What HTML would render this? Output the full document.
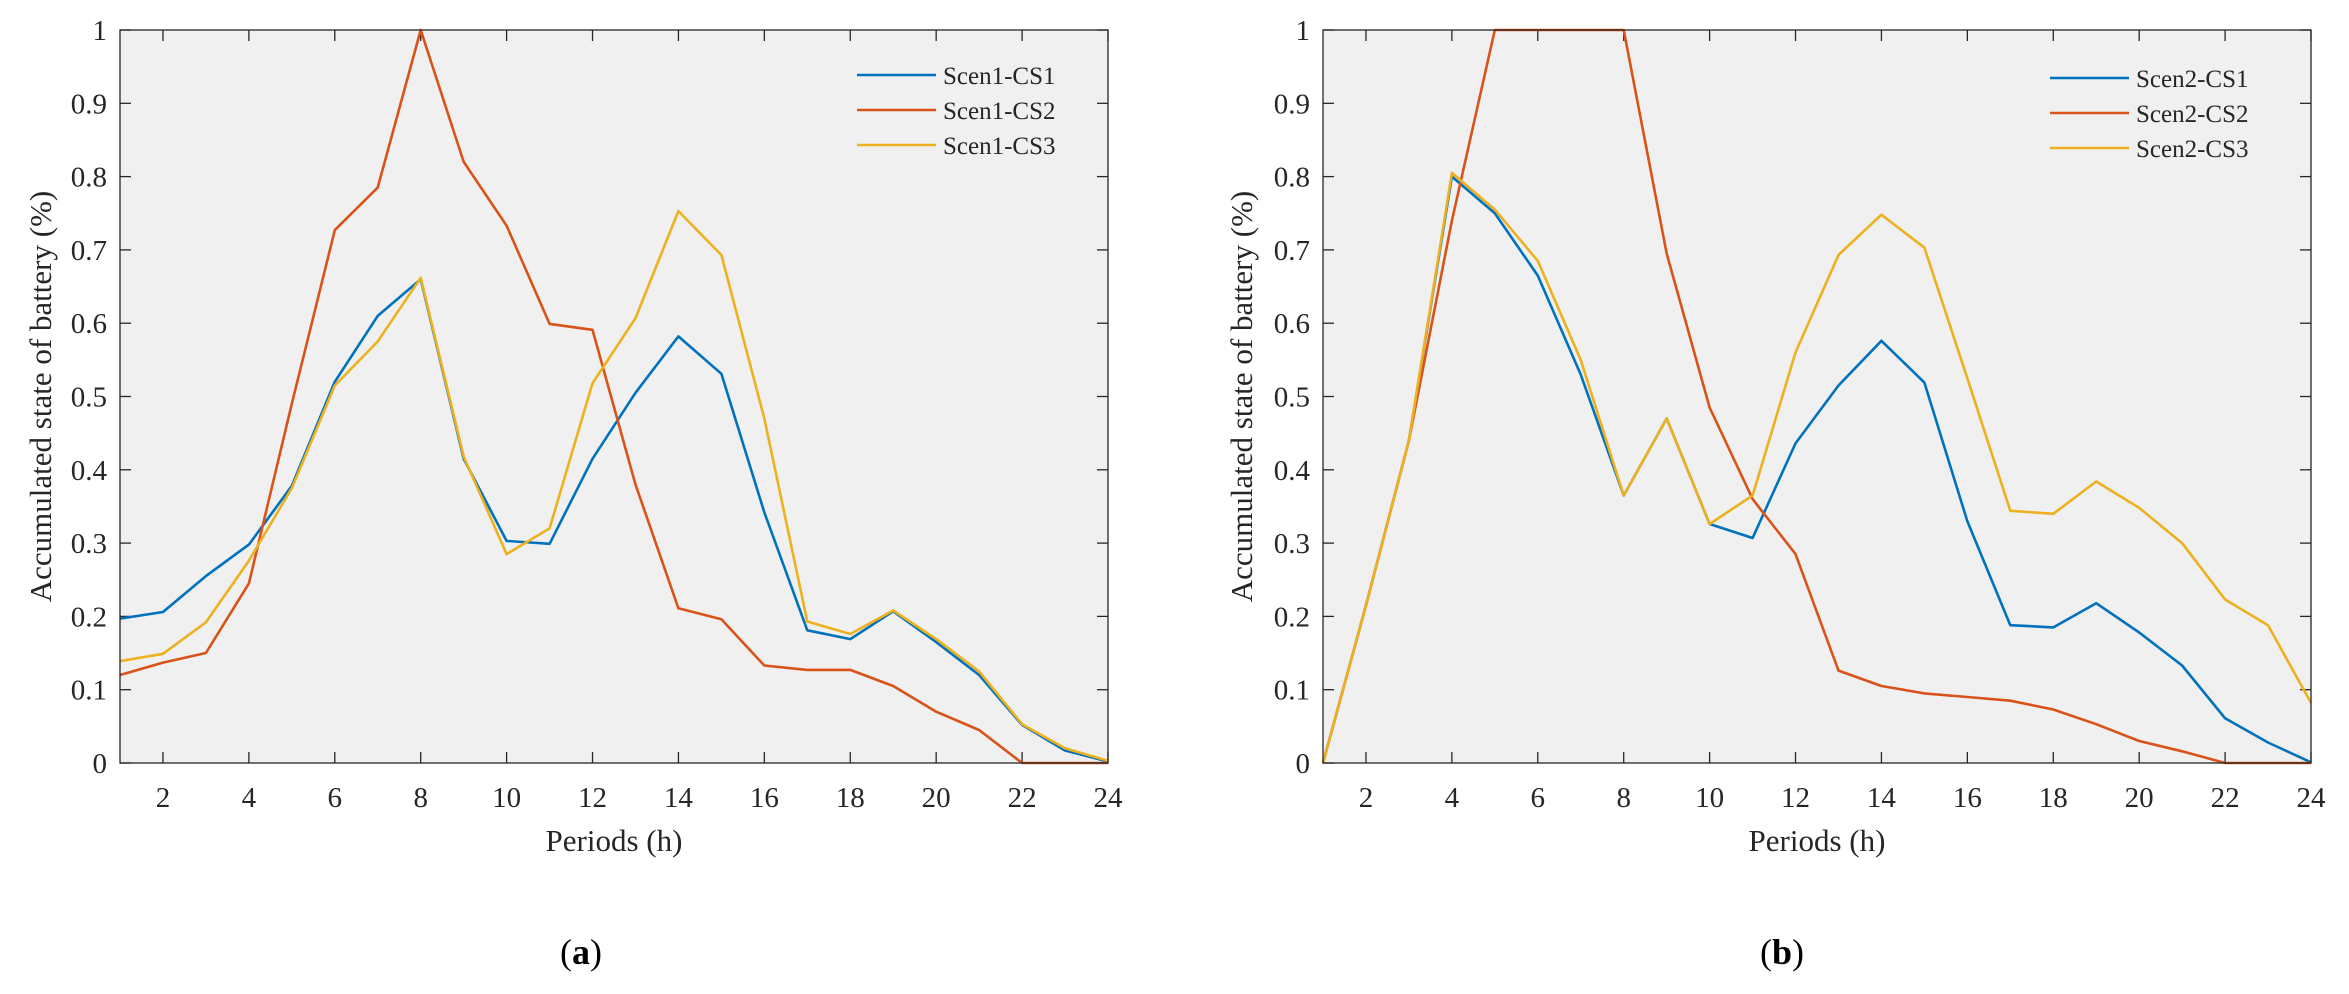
<!DOCTYPE html>
<html><head><meta charset="utf-8"><style>
html,body{margin:0;padding:0;background:#fff;}
svg{display:block;font-family:"Liberation Serif",serif;}
</style></head><body>
<svg id="fig" width="2349" height="994" xmlns="http://www.w3.org/2000/svg"></svg>
<script>
const hours = [1,2,3,4,5,6,7,8,9,10,11,12,13,14,15,16,17,18,19,20,21,22,23,24];
const xTicks = [2,4,6,8,10,12,14,16,18,20,22,24];
const yTicks = [0,0.1,0.2,0.3,0.4,0.5,0.6,0.7,0.8,0.9,1];
const yTickLabels = ['0','0.1','0.2','0.3','0.4','0.5','0.6','0.7','0.8','0.9','1'];
const seriesNamesA = ['Scen1-CS1','Scen1-CS2','Scen1-CS3'];
const seriesNamesB = ['Scen2-CS1','Scen2-CS2','Scen2-CS3'];
const a_cs1 = [0.197,0.206,0.255,0.298,0.378,0.52,0.61,0.66,0.415,0.303,0.299,0.415,0.505,0.582,0.531,0.342,0.181,0.169,0.207,0.165,0.12,0.052,0.017,0.002];
const a_cs2 = [0.12,0.137,0.15,0.245,0.49,0.727,0.785,1.0,0.82,0.733,0.599,0.591,0.38,0.211,0.196,0.133,0.127,0.127,0.105,0.07,0.045,0,0,0];
const a_cs3 = [0.139,0.149,0.192,0.276,0.375,0.515,0.575,0.662,0.418,0.285,0.32,0.518,0.607,0.753,0.693,0.47,0.193,0.176,0.208,0.169,0.125,0.053,0.02,0.003];
const b_cs1 = [0,0.215,0.44,0.8,0.75,0.665,0.53,0.365,0.47,0.326,0.307,0.436,0.515,0.576,0.519,0.33,0.188,0.185,0.218,0.178,0.133,0.061,0.028,0.001];
const b_cs2 = [0,0.215,0.44,0.74,1,1,1,1,0.695,0.485,0.36,0.285,0.126,0.105,0.095,0.09,0.085,0.073,0.053,0.03,0.016,0,0,0];
const b_cs3 = [0,0.215,0.44,0.805,0.755,0.685,0.55,0.365,0.47,0.326,0.365,0.56,0.693,0.748,0.703,0.525,0.344,0.34,0.384,0.348,0.3,0.223,0.188,0.082];

const colors = ['#0072BD','#D95319','#EDB120'];
const NS = 'http://www.w3.org/2000/svg';
const svg = document.getElementById('fig');
function mk(tag, attrs, parent, text){
  const e = document.createElementNS(NS, tag);
  for (const k in attrs) e.setAttribute(k, attrs[k]);
  if (text !== undefined) e.textContent = text;
  parent.appendChild(e);
  return e;
}
function panel(id, L, R, T, B, series, names, legX, legY, ytitleX, capX, capLabel){
  const g = mk('g', {}, svg);
  
  
  const xs = h => L + (h - 1) / 23 * (R - L);
  const ys = v => B - v * (B - T);
  const bg = mk('rect', {x:L, y:T, width:R-L, height:B-T, fill:'#f0f0f0'}, g);
  
  
  // ticks
  const tg = mk('g', {stroke:'#262626','stroke-width':1.3}, g);
  
  
  xTicks.forEach(t => {
    const x = xs(t);
    mk('line', {x1:x, y1:B, x2:x, y2:B-11}, tg);
    mk('line', {x1:x, y1:T, x2:x, y2:T+11}, tg);
    const lb = mk('text', {x:x, y:B+44, 'text-anchor':'middle', 'font-size':29, fill:'#262626'}, g, String(t));
    
    
  });
  yTicks.forEach((t, i) => {
    const y = ys(t);
    mk('line', {x1:L, y1:y, x2:L+11, y2:y}, tg);
    mk('line', {x1:R, y1:y, x2:R-11, y2:y}, tg);
    const lb = mk('text', {x:L-13, y:y+10, 'text-anchor':'end', 'font-size':29, fill:'#262626'}, g, yTickLabels[i]);
    
    
  });
  // series
  series.forEach((vals, si) => {
    const d = vals.map((v, i) => (i ? 'L' : 'M') + xs(hours[i]).toFixed(1) + ' ' + ys(v).toFixed(1)).join(' ');
    const p = mk('path', {d:d, fill:'none', stroke:colors[si], 'stroke-width':2.6, 'stroke-linejoin':'round'}, g);
    
    
  });
  const fr = mk('rect', {x:L, y:T, width:R-L, height:B-T, fill:'none', stroke:'#262626', 'stroke-width':1.3}, g);
  
  
  // legend
  const lg = mk('g', {}, g);
  
  
  names.forEach((n, i) => {
    const y = legY + i * 35;
    const e = mk('g', {}, lg);
    
    
    mk('line', {x1:legX, y1:y, x2:legX+79, y2:y, stroke:colors[i], 'stroke-width':2.6}, e);
    mk('text', {x:legX+86, y:y+9, 'font-size':25, fill:'#262626'}, e, n);
  });
  const xt = mk('text', {x:(L+R)/2, y:B+88, 'text-anchor':'middle', 'font-size':31, fill:'#262626'}, g, 'Periods (h)');
  
  
  const cy = (T+B)/2;
  const yt = mk('text', {x:ytitleX, y:cy, 'text-anchor':'middle', 'font-size':31, fill:'#262626', transform:'rotate(-90 '+ytitleX+' '+cy+')'}, g, 'Accumulated state of battery (%)');
  
  
  const cap = mk('text', {x:capX, y:964, 'text-anchor':'middle', 'font-size':36, fill:'#000'}, g);
  
  
  mk('tspan', {}, cap, '(');
  mk('tspan', {'font-weight':'bold'}, cap, capLabel);
  mk('tspan', {}, cap, ')');
}
panel('panel-a', 120, 1108, 30, 763, [a_cs1, a_cs2, a_cs3], seriesNamesA, 857, 75, 51, 581, 'a');
panel('panel-b', 1323, 2311, 30, 763, [b_cs1, b_cs2, b_cs3], seriesNamesB, 2050, 78, 1252, 1782, 'b');
</script>
</body></html>
